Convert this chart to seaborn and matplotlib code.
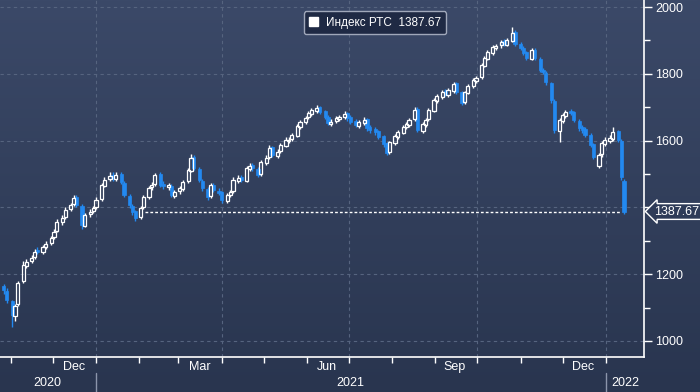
import numpy as np
import pandas as pd
import matplotlib
matplotlib.use('Agg')
import matplotlib.pyplot as plt
import matplotlib.dates as mdates
import matplotlib.transforms as mtransforms
from matplotlib.colors import LinearSegmentedColormap
from matplotlib.patches import Patch
import seaborn as sns

# RTS index, one candle per two trading days
opens = [1165,1150,1120,1075,1110,1180,1225,1240,1252,1272,
         1265,1280,1292,1310,1330,1355,1372,1395,1410,1430,
         1405,1345,1380,1390,1400,1425,1465,1485,1498,1485,
         1500,1474,1435,1405,1388,1370,1400,1430,1460,1470,
         1500,1470,1460,1465,1435,1448,1456,1478,1510,1550,
         1515,1480,1455,1433,1468,1450,1445,1420,1438,1448,
         1480,1490,1480,1516,1526,1516,1500,1534,1550,1580,
         1555,1568,1585,1600,1604,1615,1642,1655,1670,1680,
         1690,1700,1688,1670,1650,1658,1665,1672,1682,1670,
         1658,1645,1654,1664,1640,1634,1628,1613,1592,1565,
         1594,1612,1624,1640,1648,1664,1695,1630,1648,1664,
         1690,1720,1732,1748,1738,1750,1772,1745,1715,1744,
         1762,1778,1790,1824,1845,1862,1878,1885,1898,1887,
         1898,1925,1890,1876,1864,1845,1872,1845,1812,1803,
         1772,1720,1630,1660,1675,1688,1685,1660,1640,1634,
         1618,1590,1525,1560,1590,1600,1606,1628,1600,1480]
highs = [1172,1158,1124,1110,1180,1240,1245,1256,1274,1280,
         1288,1298,1315,1334,1364,1376,1400,1414,1436,1436,
         1410,1384,1394,1405,1430,1474,1490,1505,1506,1505,
         1506,1478,1440,1410,1392,1404,1436,1464,1476,1503,
         1506,1478,1474,1470,1452,1464,1482,1518,1560,1556,
         1520,1486,1460,1472,1474,1458,1450,1442,1452,1490,
         1496,1497,1525,1532,1534,1520,1542,1556,1586,1584,
         1574,1594,1610,1610,1624,1650,1662,1674,1690,1698,
         1706,1704,1692,1676,1664,1674,1678,1688,1686,1676,
         1664,1662,1670,1668,1646,1640,1632,1616,1596,1600,
         1620,1632,1646,1656,1668,1700,1700,1656,1668,1698,
         1728,1740,1752,1754,1758,1776,1776,1750,1750,1770,
         1788,1794,1832,1854,1872,1886,1890,1902,1904,1908,
         1940,1930,1896,1882,1868,1876,1876,1850,1818,1808,
         1776,1724,1668,1684,1692,1694,1690,1664,1646,1640,
         1622,1594,1562,1598,1610,1616,1640,1632,1604,1484]
lows = [1140,1115,1043,1060,1105,1175,1218,1234,1246,1260,
        1260,1274,1286,1304,1326,1348,1366,1388,1404,1400,
        1334,1340,1372,1384,1396,1420,1460,1478,1480,1478,
        1470,1430,1398,1378,1360,1364,1396,1425,1452,1464,
        1460,1455,1452,1430,1428,1440,1450,1472,1505,1512,
        1476,1450,1422,1428,1445,1436,1414,1414,1430,1442,
        1474,1476,1476,1510,1510,1490,1495,1528,1546,1550,
        1548,1562,1580,1594,1598,1610,1636,1650,1664,1675,
        1684,1680,1664,1646,1644,1652,1658,1666,1660,1650,
        1640,1638,1648,1630,1624,1618,1604,1582,1557,1560,
        1588,1606,1620,1634,1642,1660,1626,1624,1642,1660,
        1686,1714,1726,1734,1732,1744,1740,1706,1710,1740,
        1756,1772,1785,1820,1840,1856,1872,1878,1882,1882,
        1894,1882,1870,1856,1840,1840,1840,1804,1798,1766,
        1714,1622,1596,1654,1668,1676,1656,1630,1624,1610,
        1580,1545,1518,1552,1584,1594,1600,1596,1482,1380]
closes = [1153,1123,1078,1105,1174,1228,1237,1249,1267,1267,
          1282,1291,1309,1327,1357,1369,1392,1407,1428,1407,
          1347,1377,1386,1398,1422,1467,1482,1494,1488,1497,
          1476,1437,1407,1386,1368,1398,1431,1458,1467,1497,
          1467,1464,1467,1437,1446,1458,1476,1512,1548,1518,
          1482,1458,1431,1467,1452,1443,1422,1437,1446,1482,
          1488,1482,1518,1524,1518,1497,1536,1548,1578,1557,
          1566,1587,1602,1602,1617,1644,1656,1668,1683,1692,
          1698,1686,1671,1653,1656,1668,1671,1680,1668,1656,
          1647,1656,1662,1638,1632,1626,1611,1590,1563,1596,
          1614,1626,1641,1650,1662,1692,1632,1650,1662,1692,
          1722,1734,1746,1740,1752,1770,1746,1713,1746,1764,
          1781,1787,1826,1847,1865,1880,1883,1895,1889,1901,
          1922,1889,1877,1862,1847,1871,1847,1811,1805,1775,
          1722,1632,1662,1677,1686,1683,1662,1638,1632,1617,
          1587,1551,1557,1593,1602,1608,1626,1602,1490,1387.67]

last_price = 1387.67
legend_label = 'Индекс РТС  1387.67'
month_labels = ['Dec', 'Mar', 'Jun', 'Sep', 'Dec']
month_label_dates = ['2020-12-16', '2021-03-16', '2021-06-15', '2021-09-15', '2021-12-16']
year_labels = ['2020', '2021', '2022']
year_label_dates = ['2020-11-27', '2021-07-02', '2022-01-15']
year_breaks = ['2021-01-01', '2022-01-01']
grid_dates = ['2021-01-01', '2021-04-01', '2021-07-01', '2021-10-01', '2022-01-01']
y_ticks = [1000, 1200, 1400, 1600, 1800, 2000]
y_ticklabels = ['1000', '1200', '', '1600', '1800', '2000']

dates = pd.date_range('2020-10-27', periods=len(closes), freq='2B')
x = mdates.date2num(dates)
o = np.array(opens, float)
h = np.array(highs, float)
l = np.array(lows, float)
c = np.array(closes, float)

sns.set_theme(style='dark')
plt.rcParams['font.family'] = ['Liberation Sans', 'DejaVu Sans']

BLUE = '#2389f0'
GRID = '#56647f'

fig = plt.figure(figsize=(7, 3.92), dpi=100)
fig.patch.set_facecolor('#29354f')

# background gradient
bg = fig.add_axes([0, 0, 1, 1], zorder=-1)
cmap = LinearSegmentedColormap.from_list('bg', ['#29354f', '#3b4968'])
bg.imshow(np.linspace(0, 1, 256).reshape(-1, 1), aspect='auto', cmap=cmap,
          origin='lower', extent=[0, 1, 0, 1])
bg.axis('off')

ax = fig.add_axes([0, 1 - 357 / 392, 644 / 700, 357 / 392])
ax.set_facecolor('none')
ax.grid(False)

x0 = mdates.date2num(pd.Timestamp('2021-01-01'))
ax.set_xlim(x0 - 96 / 1.397, x0 + (644 - 96) / 1.397)
ax.set_ylim(952, 2021)

# dashed grid
for v in y_ticks:
    ax.axhline(v, color=GRID, lw=0.8, ls=(0, (3, 3)), zorder=0)
for d in grid_dates:
    ax.axvline(mdates.date2num(pd.Timestamp(d)), color=GRID, lw=0.8, ls=(0, (3, 3)), zorder=0)

# candles
up = c >= o
lo = np.minimum(o, c)
hi = np.maximum(o, c)
w = 2.3
ax.vlines(x[up], l[up], lo[up], color='white', lw=1, zorder=3)
ax.vlines(x[up], hi[up], h[up], color='white', lw=1, zorder=3)
ax.bar(x[up], np.maximum(hi[up] - lo[up], 1), bottom=lo[up], width=w,
       facecolor='none', edgecolor='white', linewidth=0.9, zorder=3)
ax.vlines(x[~up], l[~up], h[~up], color=BLUE, lw=1, zorder=2)
ax.bar(x[~up], np.maximum(hi[~up] - lo[~up], 1), bottom=lo[~up], width=w,
       facecolor=BLUE, edgecolor=BLUE, linewidth=0.5, zorder=2)

# last price dotted line
line_x = mdates.date2num(pd.to_datetime(['2021-02-05', '2022-01-12']))
sns.lineplot(x=line_x, y=[last_price, last_price], ax=ax, color='white',
             lw=1, linestyle=(0, (2, 1.5)), zorder=4)

# spines
for s in ['top', 'left']:
    ax.spines[s].set_visible(False)
for s in ['bottom', 'right']:
    ax.spines[s].set_color('white')
    ax.spines[s].set_linewidth(1.2)

# x axis
months = pd.date_range('2020-11-01', '2022-01-01', freq='MS')
ax.set_xticks(mdates.date2num(months), minor=True)
ax.set_xticks(mdates.date2num(pd.to_datetime(month_label_dates)))
ax.set_xticklabels(month_labels)
ax.tick_params(axis='x', which='major', bottom=True, length=0, pad=3,
               labelcolor='white', labelsize=9)
ax.tick_params(axis='x', which='minor', bottom=True, length=4, width=1,
               color='white', direction='out')

# y axis on the right
ax.yaxis.tick_right()
ax.set_yticks(y_ticks)
ax.set_yticklabels(y_ticklabels)
ax.set_yticks(range(1100, 2000, 200), minor=True)
ax.tick_params(axis='y', which='major', right=True, left=False, length=6, width=1,
               color='white', labelcolor='white', labelsize=9, pad=2)
ax.tick_params(axis='y', which='minor', right=True, left=False, length=4, width=1,
               color='white')

trans = mtransforms.blended_transform_factory(ax.transData, ax.transAxes)
for lab, d in zip(year_labels, year_label_dates):
    ax.text(mdates.date2num(pd.Timestamp(d)), -0.073, lab, transform=trans,
            ha='center', va='center', color='white', fontsize=9)
for d in year_breaks:
    xb = mdates.date2num(pd.Timestamp(d))
    ax.plot([xb, xb], [-0.045, -0.11], transform=trans, color='#8b95ab',
            lw=1, clip_on=False)

# last price tag
ax.annotate(f'{last_price:.2f}', xy=(1.0, last_price), xycoords=('axes fraction', 'data'),
            xytext=(7, 0), textcoords='offset points', ha='left', va='center',
            color='white', fontsize=9,
            bbox=dict(boxstyle='larrow,pad=0.15', fc='#2e3b58', ec='white', lw=1))

# legend
leg = ax.legend(handles=[Patch(facecolor='white', edgecolor='white')], labels=[legend_label],
                loc='upper center', bbox_to_anchor=(0.582, 0.985), frameon=True,
                facecolor='#1f2a44', edgecolor='#a0a8ba', framealpha=1, fontsize=8.5,
                labelcolor='white', handlelength=0.8, handleheight=0.8,
                borderpad=0.45, handletextpad=0.6, fancybox=True)

fig.savefig('out.png', dpi=100)
